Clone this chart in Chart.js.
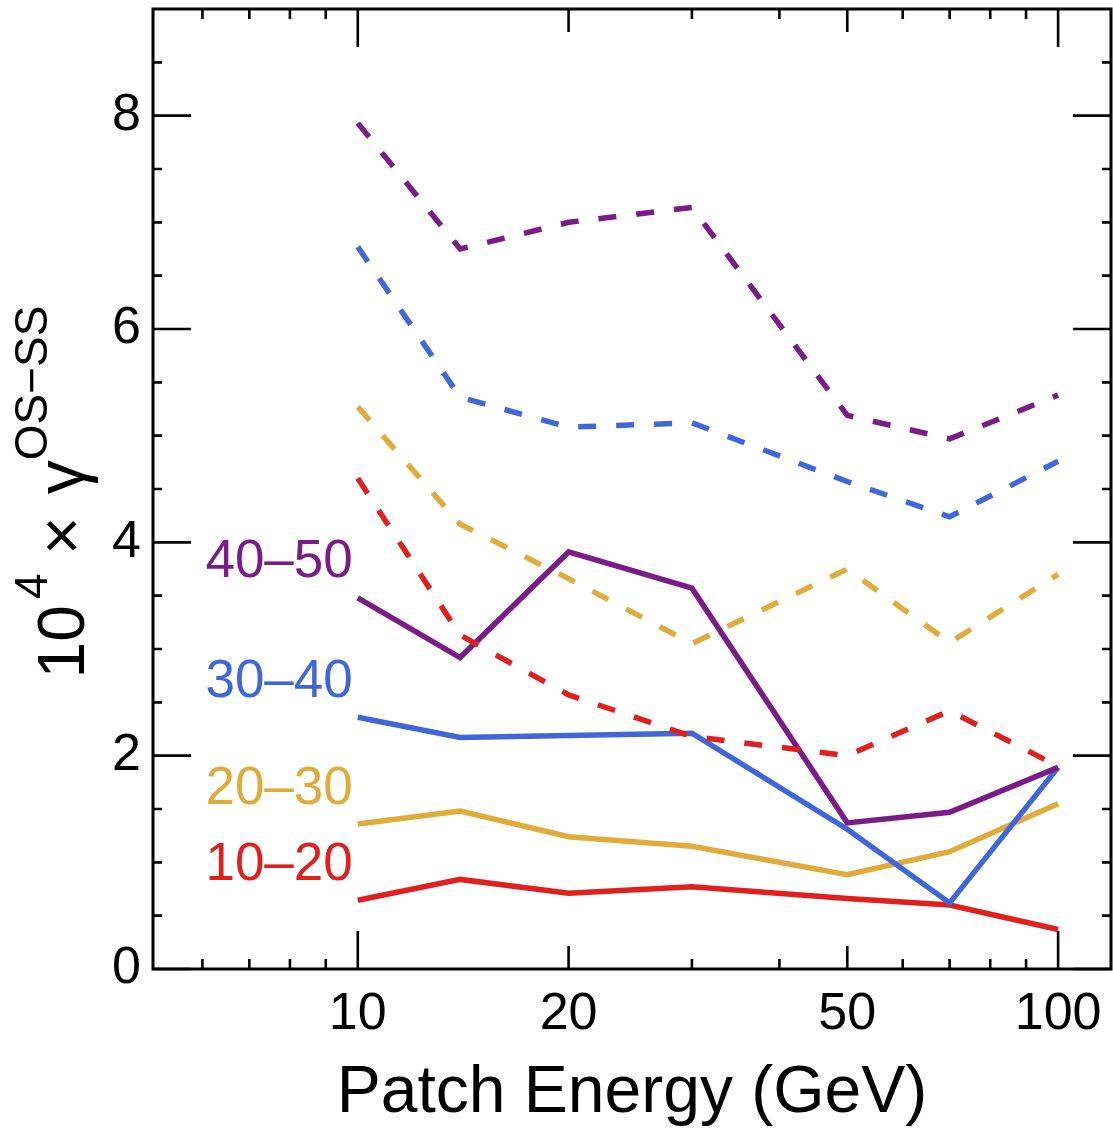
<!DOCTYPE html>
<html>
<head>
<meta charset="utf-8">
<script src="https://cdn.jsdelivr.net/npm/chart.js@4.4.1/dist/chart.umd.min.js"></script>
<style>
  html, body { margin: 0; padding: 0; background: #fff; }
  #wrap { width: 1113px; height: 1133px; }
</style>
</head>
<body>
<div id="wrap"><canvas id="yieldChart" width="1113" height="1133"></canvas></div>
<script>
// patch energy bins (GeV)
const energy = [10, 14, 20, 30, 50, 70, 100];

// 10^4 x gamma(OS-SS), one solid and one dashed curve per centrality bin
const solid10to20 = [0.645, 0.84, 0.71, 0.77, 0.66, 0.60, 0.37];
const solid20to30 = [1.36, 1.48, 1.24, 1.15, 0.885, 1.10, 1.55];
const solid30to40 = [2.36, 2.17, 2.19, 2.21, 1.31, 0.62, 1.89];
const solid40to50 = [3.48, 2.92, 3.91, 3.57, 1.37, 1.47, 1.89];
const dashed10to20 = [4.60, 3.13, 2.57, 2.18, 2.00, 2.42, 1.90];
const dashed20to30 = [5.27, 4.17, 3.66, 3.05, 3.75, 3.06, 3.70];
const dashed30to40 = [6.77, 5.36, 5.08, 5.12, 4.57, 4.24, 4.76];
const dashed40to50 = [7.93, 6.75, 7.00, 7.14, 5.19, 4.97, 5.38];

const binLabels = ['10–20', '20–30', '30–40', '40–50'];

const xTickLabels = [10, 20, 50, 100];
const xMinorTicks = [6, 7, 8, 9, 30, 40, 60, 70, 80, 90];
const yTickLabels = [0, 2, 4, 6, 8];

const FONT = '"Liberation Sans", Arial, Helvetica, sans-serif';
const RED = '#e0201f';
const GOLD = '#e0ab3b';
const BLUE = '#4067da';
const PURPLE = '#7a1c88';

function series(values, color, dashed) {
  return {
    data: energy.map((e, i) => ({ x: e, y: values[i] })),
    borderColor: color,
    borderWidth: 5.5,
    borderDash: dashed ? [18, 20] : [],
    borderCapStyle: 'butt',
    borderJoinStyle: 'miter',
    pointRadius: 0,
    fill: false,
    tension: 0
  };
}

// dashed curves first so they end up on top
const datasets = [
  series(dashed10to20, RED, true),
  series(dashed20to30, GOLD, true),
  series(dashed30to40, BLUE, true),
  series(dashed40to50, PURPLE, true),
  series(solid40to50, PURPLE, false),
  series(solid30to40, BLUE, false),
  series(solid20to30, GOLD, false),
  series(solid10to20, RED, false)
];
// which solid dataset each bin label sits next to
const labelSets = [7, 6, 5, 4];
const labelColors = [RED, GOLD, BLUE, PURPLE];

// frame with inward ticks on all four sides
const frameTicks = {
  id: 'frameTicks',
  afterDatasetsDraw(chart) {
    const { ctx, chartArea: a, scales: { x, y } } = chart;
    ctx.save();
    ctx.strokeStyle = '#000';
    ctx.lineWidth = 2.6;
    ctx.beginPath();
    const xTick = (v, len) => {
      const px = x.getPixelForValue(v);
      ctx.moveTo(px, a.bottom); ctx.lineTo(px, a.bottom - len);
      ctx.moveTo(px, a.top); ctx.lineTo(px, a.top + len);
    };
    xTickLabels.forEach(v => xTick(v, Math.log10(v) % 1 === 0 ? 38 : 23));
    xMinorTicks.forEach(v => xTick(v, 10));
    const yTick = (v, len) => {
      const py = y.getPixelForValue(v);
      ctx.moveTo(a.left, py); ctx.lineTo(a.left + len, py);
      ctx.moveTo(a.right, py); ctx.lineTo(a.right - len, py);
    };
    yTickLabels.forEach(v => yTick(v, 38));
    for (let v = 0.5; v < 9; v += 0.5) {
      if (!yTickLabels.includes(v)) yTick(v, 9);
    }
    ctx.stroke();
    ctx.lineWidth = 3;
    ctx.strokeRect(a.left, a.top, a.width, a.height);
    ctx.restore();
  }
};

// bin labels, placed up and left of the first point of each solid curve
const binText = {
  id: 'binText',
  afterDatasetsDraw(chart) {
    const { ctx } = chart;
    ctx.save();
    ctx.font = '53px ' + FONT;
    ctx.textAlign = 'right';
    ctx.textBaseline = 'middle';
    labelSets.forEach((idx, i) => {
      const pt = chart.getDatasetMeta(idx).data[0];
      ctx.fillStyle = labelColors[i];
      ctx.fillText(binLabels[i], pt.x - 5, pt.y - 35);
    });
    ctx.restore();
  }
};

// rotated y title with superscripts: 10^4 x gamma^(OS-SS)
const yTitle = {
  id: 'yTitle',
  afterDraw(chart) {
    const { ctx, chartArea: a } = chart;
    const parts = [
      { text: '10', size: 66, rise: 0, gap: 6 },
      { text: '4', size: 46, rise: 37, gap: 0 },
      { text: ' × ', size: 66, rise: 0, gap: 4 },
      { text: 'γ', size: 68, rise: 0, gap: 0 },
      { text: 'OS−SS', size: 46, rise: 37, gap: 0 }
    ];
    ctx.save();
    let total = 0;
    parts.forEach(p => {
      ctx.font = p.size + 'px ' + FONT;
      p.w = ctx.measureText(p.text).width;
      total += p.w + p.gap;
    });
    ctx.translate(84, (a.top + a.bottom) / 2 + 3);
    ctx.rotate(-Math.PI / 2);
    ctx.fillStyle = '#000';
    ctx.textBaseline = 'alphabetic';
    let u = -total / 2;
    parts.forEach(p => {
      ctx.font = p.size + 'px ' + FONT;
      ctx.fillText(p.text, u, -p.rise);
      u += p.w + p.gap;
    });
    ctx.restore();
  }
};

new Chart(document.getElementById('yieldChart'), {
  type: 'line',
  data: { datasets: datasets },
  options: {
    responsive: false,
    animation: false,
    events: [],
    layout: { padding: { top: 9, right: 2, left: 0, bottom: 0 } },
    plugins: { legend: { display: false }, tooltip: { enabled: false } },
    scales: {
      x: {
        type: 'logarithmic',
        min: 5.1,
        max: 119,
        grid: { display: false },
        border: { display: false },
        afterBuildTicks: axis => { axis.ticks = xTickLabels.map(v => ({ value: v })); },
        afterFit: axis => {
          axis.height = 164;
          axis.paddingLeft = 0;
          axis.paddingRight = 0;
        },
        ticks: {
          color: '#000',
          padding: 6,
          maxRotation: 0,
          autoSkip: false,
          font: { family: FONT, size: 52 },
          callback: v => String(v)
        },
        title: {
          display: true,
          text: 'Patch Energy (GeV)',
          color: '#000',
          padding: 0,
          font: { family: FONT, size: 66 }
        }
      },
      y: {
        min: 0,
        max: 9,
        grid: { display: false },
        border: { display: false },
        afterBuildTicks: axis => { axis.ticks = yTickLabels.map(v => ({ value: v })); },
        afterFit: axis => {
          axis.width = 153;
          axis.paddingTop = 0;
          axis.paddingBottom = 0;
        },
        ticks: {
          color: '#000',
          padding: 4,
          font: { family: FONT, size: 52 }
        }
      }
    }
  },
  plugins: [frameTicks, binText, yTitle]
});
</script>
</body>
</html>
